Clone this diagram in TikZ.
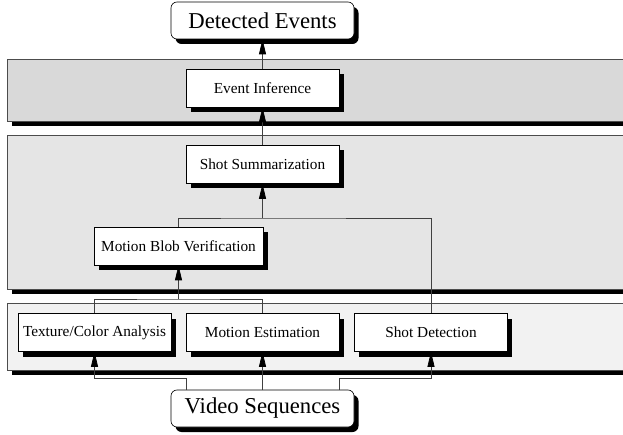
\documentclass[tikz,border=0pt]{standalone}
\usepackage{fontspec}
\setmainfont{Liberation Serif}
\usetikzlibrary{shadows,arrows.meta}
\begin{document}
\begin{tikzpicture}[x=1pt,y=-1pt,
  blackshadow/.style={drop shadow={shadow xshift=4.5pt,shadow yshift=-5pt,fill=black,opacity=1}},
  panel/.style={draw=black!70,line width=0.6pt,rectangle,inner sep=0pt,minimum width=623pt,anchor=north west,blackshadow},
  stepbox/.style={draw=black,line width=0.6pt,fill=white,rectangle,inner sep=0pt,minimum width=153pt,minimum height=38pt,
    font=\fontsize{15.3}{18}\selectfont,blackshadow},
  endbox/.style={draw=black,line width=0.6pt,fill=white,rounded corners=6pt,inner sep=0pt,minimum width=183pt,minimum height=37pt,
    font=\fontsize{22.7}{26}\selectfont,blackshadow},
  conn/.style={draw=black!75,line width=0.7pt},
  arr/.style={conn,-{Triangle[length=15pt,width=7pt,black]}}]
\useasboundingbox (0,0) rectangle (623,435);

% layer panels
\node[panel,fill=black!15,minimum height=62pt] (inference) at (7,59) {};
\node[panel,fill=black!10,minimum height=154pt] (summary) at (7,135) {};
\node[panel,fill=black!5,minimum height=67pt] (features) at (7,303) {};

% processing steps
\node[endbox] (de) at (262.5,20.5) {Detected Events};
\node[stepbox] (ei) at (262.5,88) {Event Inference};
\node[stepbox] (ss) at (262.5,164.5) {Shot Summarization};
\node[stepbox,minimum width=169pt] (mbv) at (178.5,246) {Motion Blob Verification};
\node[stepbox] (tca) at (94.5,332.5) {Texture/Color Analysis};
\node[stepbox] (me) at (262.5,332.5) {Motion Estimation};
\node[stepbox] (sd) at (431,332.5) {Shot Detection};
\node[endbox] (vs) at (262.5,408.5) {Video Sequences};

% junction points
\coordinate (jss) at (262.5,218);
\coordinate (jmb) at (178.5,299);

% connectors
\draw[arr] (ei.north) -- (de.south);
\draw[arr] (ss.north) -- (ei.south);
\draw[conn] (mbv.north) |- (jss) -| (sd.north);
\draw[arr] (jss) -- (ss.south);
\draw[conn] (tca.north) |- (jmb) -| (me.north);
\draw[arr] (jmb) -- (mbv.south);
\draw[arr] ([xshift=-76.5pt]vs.north) -- ++(0,-11) -| (tca.south);
\draw[arr] (vs.north) -- (me.south);
\draw[arr] ([xshift=76.5pt]vs.north) -- ++(0,-11) -| (sd.south);
\end{tikzpicture}
\end{document}
